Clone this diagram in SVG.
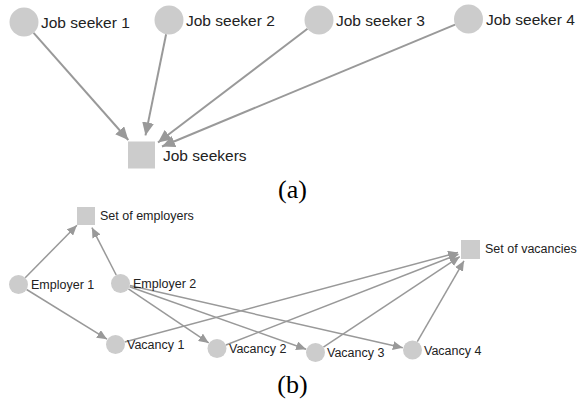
<svg xmlns="http://www.w3.org/2000/svg" width="577" height="399" viewBox="0 0 577 399">
<defs>
<style>
.node{fill:#cccccc}
.lbl{font-family:"Liberation Sans",Arial,sans-serif;fill:#222}
.big{font-size:15.5px}
.small{font-size:12.5px}
.cap{font-family:"Liberation Serif","Times New Roman",serif;font-size:26px;fill:#000}
.ea{stroke:#999;stroke-width:2;fill:none}
.eb{stroke:#999;stroke-width:1.5;fill:none}
</style>
<marker id="ahA" markerUnits="userSpaceOnUse" markerWidth="14" markerHeight="12" refX="13" refY="6" orient="auto"><path d="M0,0 L13,6 L0,12 Z" fill="#999"/></marker>
<marker id="ahB" markerUnits="userSpaceOnUse" markerWidth="11" markerHeight="9" refX="10" refY="4.5" orient="auto"><path d="M0,0 L10,4.5 L0,9 Z" fill="#999"/></marker>
</defs>
<rect width="577" height="399" fill="#fff"/>
<g id="connectors">
<line class="ea" x1="33.6" y1="32.9" x2="128.3" y2="140" marker-end="url(#ahA)"/>
<line class="ea" x1="166.1" y1="34.2" x2="145.5" y2="135.4" marker-end="url(#ahA)"/>
<line class="ea" x1="307.5" y1="28.8" x2="158" y2="142.5" marker-end="url(#ahA)"/>
<line class="ea" x1="455.1" y1="24.6" x2="162" y2="146.5" marker-end="url(#ahA)"/>
<line class="eb" x1="25.2" y1="277.7" x2="76.9" y2="225.3" marker-end="url(#ahB)"/>
<line class="eb" x1="116.2" y1="275" x2="91.9" y2="227.6" marker-end="url(#ahB)"/>
<line class="eb" x1="26.6" y1="289.5" x2="107" y2="339.2" marker-end="url(#ahB)"/>
<line class="eb" x1="128.4" y1="288.8" x2="208.7" y2="342.9" marker-end="url(#ahB)"/>
<line class="eb" x1="129.5" y1="286.7" x2="306.1" y2="349.2" marker-end="url(#ahB)"/>
<line class="eb" x1="129.8" y1="285.6" x2="402.8" y2="347.8" marker-end="url(#ahB)"/>
<line class="eb" x1="124.7" y1="342" x2="458" y2="252.5" marker-end="url(#ahB)"/>
<line class="eb" x1="225.9" y1="345" x2="458.4" y2="254.2" marker-end="url(#ahB)"/>
<line class="eb" x1="323.4" y1="347.2" x2="459.7" y2="256.7" marker-end="url(#ahB)"/>
<line class="eb" x1="417.3" y1="341.7" x2="464" y2="260.8" marker-end="url(#ahB)"/>
</g>
<g id="js1"><circle class="node" cx="24" cy="22" r="14.5"/><text class="lbl big" x="41" y="28">Job seeker 1</text></g>
<g id="js2"><circle class="node" cx="169" cy="20" r="14.5"/><text class="lbl big" x="186" y="26">Job seeker 2</text></g>
<g id="js3"><circle class="node" cx="319" cy="20" r="14.5"/><text class="lbl big" x="336" y="26">Job seeker 3</text></g>
<g id="js4"><circle class="node" cx="468.5" cy="19" r="14.5"/><text class="lbl big" x="486" y="25">Job seeker 4</text></g>
<g id="jobseekers"><rect class="node" x="128" y="141.5" width="27" height="27"/><text class="lbl big" x="163" y="161">Job seekers</text></g>
<text class="cap" x="292.5" y="198" text-anchor="middle">(a)</text>
<g id="setemp"><rect class="node" x="77" y="207" width="18" height="18"/><text class="lbl small" x="100" y="220">Set of employers</text></g>
<g id="emp1"><circle class="node" cx="18.5" cy="284.5" r="9.5"/><text class="lbl small" x="31" y="289">Employer 1</text></g>
<g id="emp2"><circle class="node" cx="120.5" cy="283.5" r="9.5"/><text class="lbl small" x="133" y="288">Employer 2</text></g>
<g id="vac1"><circle class="node" cx="115.5" cy="344.5" r="9.5"/><text class="lbl small" x="127" y="349">Vacancy 1</text></g>
<g id="vac2"><circle class="node" cx="217" cy="348.5" r="9.5"/><text class="lbl small" x="229" y="353">Vacancy 2</text></g>
<g id="vac3"><circle class="node" cx="315.5" cy="352.5" r="9.5"/><text class="lbl small" x="327" y="357">Vacancy 3</text></g>
<g id="vac4"><circle class="node" cx="412.5" cy="350" r="9.5"/><text class="lbl small" x="424" y="355">Vacancy 4</text></g>
<g id="setvac"><rect class="node" x="461" y="240" width="19" height="19"/><text class="lbl small" x="485" y="253">Set of vacancies</text></g>
<text class="cap" x="292.5" y="393" text-anchor="middle">(b)</text>
</svg>
